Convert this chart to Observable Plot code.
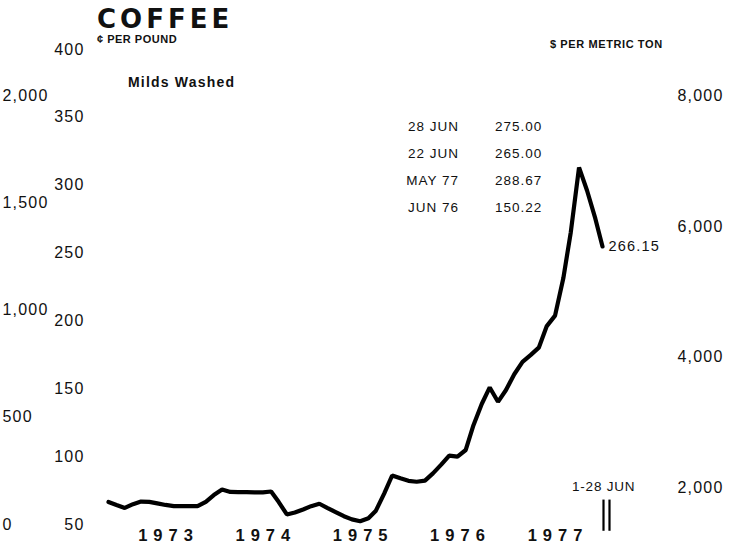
<!DOCTYPE html>
<html>
<head>
<meta charset="utf-8">
<script src="https://cdn.jsdelivr.net/npm/d3@7"></script>
<script src="https://cdn.jsdelivr.net/npm/@observablehq/plot@0.6"></script>
<style>
  body { margin: 0; background: #fff; }
  #wrap { position: relative; width: 745px; height: 545px; overflow: hidden;
          font-family: "Liberation Sans", Arial, sans-serif; color: #111; background: #fff; }
  .t { position: absolute; white-space: nowrap; line-height: 1; }
</style>
</head>
<body>
<div id="wrap"></div>
<script>
// ---- data (cents per pound, monthly, Milds Washed) ----
const months = [
  "1972-06","1972-07","1972-08","1972-09","1972-10","1972-11","1972-12",
  "1973-01","1973-02","1973-03","1973-04","1973-05","1973-06","1973-07","1973-08","1973-09","1973-10","1973-11","1973-12",
  "1974-01","1974-02","1974-03","1974-04","1974-05","1974-06","1974-07","1974-08","1974-09","1974-10","1974-11","1974-12",
  "1975-01","1975-02","1975-03","1975-04","1975-05","1975-06","1975-07","1975-08","1975-09","1975-10","1975-11","1975-12",
  "1976-01","1976-02","1976-03","1976-04","1976-05","1976-06","1976-07","1976-08","1976-09","1976-10","1976-11","1976-12",
  "1977-01","1977-02","1977-03","1977-04","1977-05","1977-06","1977-06-28"
];
const cents = [
  66.6, 64.4, 62.2, 65.0, 66.9, 66.7, 65.6,
  64.4, 63.6, 63.6, 63.6, 63.5, 66.7, 71.7, 75.8, 74.0, 73.9, 73.8, 73.7,
  73.7, 74.3, 66.7, 57.4, 58.9, 61.1, 63.5, 65.3, 62.1, 59.2, 56.1, 53.8,
  52.4, 54.6, 60.2, 72.8, 86.1, 84.0, 82.2, 81.5, 82.3, 87.7, 94.1, 100.8,
  100.0, 104.9, 123.2, 138.8, 151.0, 140.4, 149.1, 160.7, 169.8, 174.8, 180.3, 196.2,
  203.9, 231.4, 265.3, 313.1, 296.1, 275.5, 254.9
];
const lastLabel = "266.15";

// axes
const centTicks = [50, 100, 150, 200, 250, 300, 350, 400];
const poundTicks = [0, 500, 1000, 1500, 2000];          // far-left scale (cut off)
const dollarTicks = [2000, 4000, 6000, 8000];           // $ per metric ton
const yearTicks = ["1973", "1974", "1975", "1976", "1977"];

// annotation table
const annoDates = ["28 JUN", "22 JUN", "MAY 77", "JUN 76"];
const annoValues = ["275.00", "265.00", "288.67", "150.22"];

// secondary scales expressed in the chart's cents scale (as printed)
const poundToCents = v => 50 + v * 0.158;
const dollarToCents = v => -18.9 + v * 0.04805;

const data = months.map((m, i) => ({date: new Date(m.length === 7 ? m + "-01" : m), value: cents[i]}));
const last = data[data.length - 1];

const fmt = d3.format(",");
const poundMap = new Map(poundTicks.map(v => [poundToCents(v), fmt(v)]));
const dollarMap = new Map(dollarTicks.map(v => [dollarToCents(v), fmt(v)]));

const chart = Plot.plot({
  width: 745,
  height: 545,
  marginTop: 49,
  marginBottom: 21,
  marginLeft: 108,
  marginRight: 143,
  style: {fontFamily: "'Liberation Sans', Arial, sans-serif", fontSize: "16px", color: "#111", background: "transparent", overflow: "visible"},
  x: {type: "utc", domain: [new Date("1972-06-01"), new Date("1977-06-28")]},
  y: {domain: [50, 400]},
  marks: [
    Plot.axisY(centTicks, {anchor: "left", label: null, tickSize: 0, tickPadding: 24, fontSize: 16}),
    Plot.axisY([...poundMap.keys()], {anchor: "left", label: null, tickSize: 0, tickPadding: 106, textAnchor: "start",
      fontSize: 16, tickFormat: d => poundMap.get(d)}),
    Plot.axisY([...dollarMap.keys()], {anchor: "right", label: null, tickSize: 0, tickPadding: 75,
      fontSize: 16, tickFormat: d => dollarMap.get(d)}),
    Plot.axisX(yearTicks.map(y => new Date(y + "-01-01")), {anchor: "bottom", label: null, tickSize: 0, tickPadding: 5,
      fontSize: 16.5, fontWeight: "bold", dx: 3, tickFormat: d3.utcFormat("%Y")}),
    Plot.line(data, {x: "date", y: "value", stroke: "#000", strokeWidth: 4.2, strokeLinejoin: "miter"}),
    Plot.text([last], {x: "date", y: "value", text: () => lastLabel, dx: 6, textAnchor: "start", fontSize: 14.5}),
    Plot.ruleX([last, last], {x: "date", y1: 68, y2: 45, stroke: "#000", strokeWidth: 2.2, clip: false})
  ]
});

const svg = d3.select(chart);
svg.selectAll("text").style("letter-spacing", "1.2px");
// x-axis year labels are widely letter-spaced
svg.selectAll("g[aria-label='x-axis tick label'] text").style("letter-spacing", "6px");
// double bar marker: offset the two rules
svg.selectAll("g[aria-label='rule'] line").each(function(d, i) {
  d3.select(this).attr("transform", `translate(${i === 0 ? 1 : 7},0)`);
});

const wrap = document.getElementById("wrap");
wrap.appendChild(chart);

function addText(txt, opts) {
  const s = document.createElement("div");
  s.className = "t";
  s.textContent = txt;
  Object.assign(s.style, opts);
  wrap.appendChild(s);
  return s;
}
addText("COFFEE", {left: "97px", top: "6px", fontFamily: "'DejaVu Sans', sans-serif", fontWeight: "bold", fontSize: "26px", letterSpacing: "4px"});
addText("¢ PER POUND", {left: "97px", top: "34px", fontWeight: "bold", fontSize: "11px", letterSpacing: "0.5px"});
addText("Milds Washed", {left: "128px", top: "75px", fontWeight: "bold", fontSize: "14px", letterSpacing: "1.2px"});
addText("$ PER METRIC TON", {left: "550px", top: "39px", fontWeight: "bold", fontSize: "11px", letterSpacing: "0.6px"});
const rowY = [120, 147, 174, 201];
annoDates.forEach((d, i) => {
  addText(d, {right: (745 - 459) + "px", top: rowY[i] + "px", fontSize: "13.5px", letterSpacing: "1px", fontWeight: "500"});
  addText(annoValues[i], {left: "495px", top: rowY[i] + "px", fontSize: "13.5px", letterSpacing: "1px"});
});
addText("1-28 JUN", {left: "572px", top: "480px", fontSize: "13.5px", letterSpacing: "0.8px"});
</script>
</body>
</html>
